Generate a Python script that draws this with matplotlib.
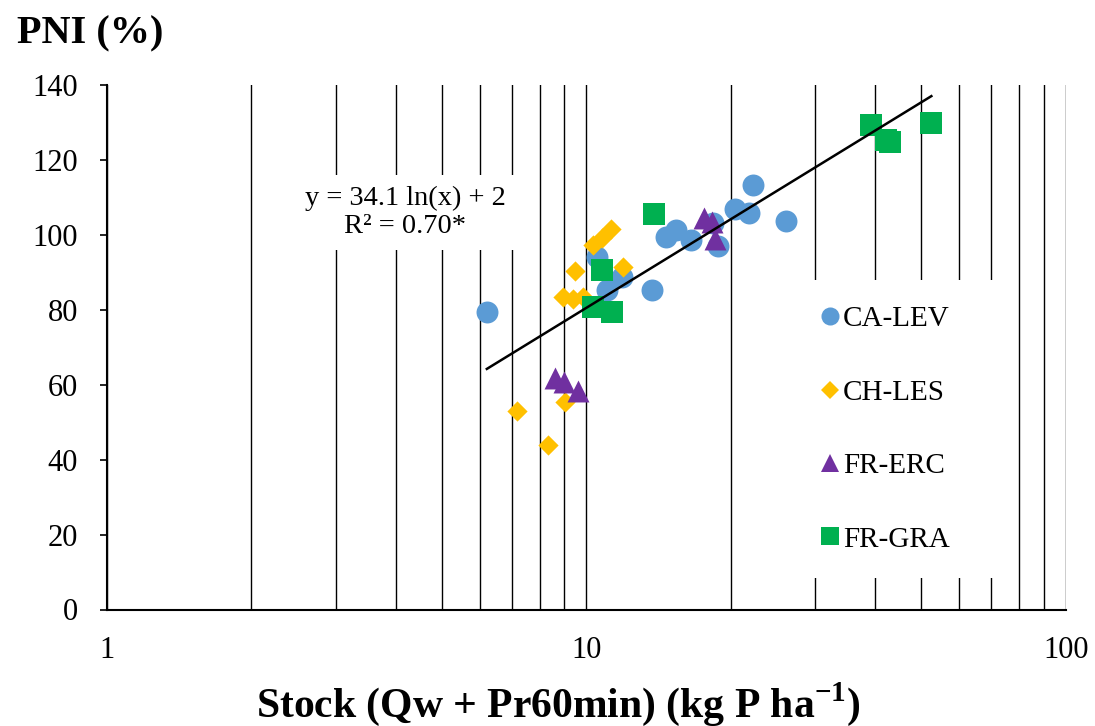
import numpy as np
import matplotlib
matplotlib.use("Agg")
import matplotlib.pyplot as plt
from matplotlib.ticker import FixedLocator, FixedFormatter, LogLocator, NullFormatter
from matplotlib.patches import Rectangle
from matplotlib.lines import Line2D

plt.rcParams['font.family'] = ['Liberation Serif', 'DejaVu Serif']
plt.rcParams['mathtext.fontset'] = 'custom'
plt.rcParams['mathtext.rm'] = 'Liberation Serif'
plt.rcParams['mathtext.bf'] = 'Liberation Serif:bold'

# P stock (kg P/ha) vs PNI (%) per site
ca_lev_x = [6.20, 10.5, 11.84, 11.02, 13.74, 14.65, 15.37, 16.5, 18.4, 18.8, 20.4, 21.85, 22.28, 26.06]
ca_lev_y = [79.4, 94.2, 88.8, 85.3, 85.3, 99.5, 101.3, 98.6, 103.1, 96.9, 106.8, 105.9, 113.3, 103.7]

ch_les_x = [11.25, 10.76, 10.33, 9.46, 11.93, 8.94, 9.38, 9.84, 7.17, 8.32, 9.02]
ch_les_y = [101.6, 99.1, 97.3, 90.3, 91.3, 83.5, 83.0, 83.5, 53.0, 43.9, 55.5]

fr_erc_x = [8.60, 8.97, 9.61, 17.58, 18.33, 18.53]
fr_erc_y = [61.7, 60.8, 58.2, 104.6, 103.3, 99.0]

fr_gra_x = [13.85, 10.79, 10.33, 11.32, 39.2, 42.1, 42.96, 52.45]
fr_gra_y = [105.6, 90.6, 80.8, 79.5, 129.2, 125.2, 124.7, 129.8]

series_names = ["CA-LEV", "CH-LES", "FR-ERC", "FR-GRA"]
series_colors = ['#5B9BD5', '#FFC000', '#7030A0', '#00B050']
series_markers = ['o', 'D', '^', 's']

# logarithmic fit y = a ln(x) + b
fit_a, fit_b = 34.1, 2
fit_r2 = "0.70*"

y_ticks = [0, 20, 40, 60, 80, 100, 120, 140]
x_ticks = [1, 10, 100]
x_tick_labels = ["1", "10", "100"]

W, H = 1095, 726
fig = plt.figure(figsize=(W / 100, H / 100), dpi=100)
ax = fig.add_axes([107 / W, 1 - 609.5 / H, (1065.7 - 107) / W, (609.5 - 85) / H])

ax.set_xscale('log')
ax.set_xlim(1, 100)
ax.set_ylim(0, 140)

ax.xaxis.set_major_locator(FixedLocator(x_ticks))
ax.xaxis.set_major_formatter(FixedFormatter(x_tick_labels))
ax.xaxis.set_minor_locator(LogLocator(base=10, subs=np.arange(2, 10)))
ax.xaxis.set_minor_formatter(NullFormatter())
ax.set_yticks(y_ticks)

ax.set_axisbelow(True)
ax.grid(True, which='both', axis='x', color='black', linewidth=1.0)
ax.grid(False, axis='y')

for s in ['top', 'right']:
    ax.spines[s].set_visible(False)
for s in ['left', 'bottom']:
    ax.spines[s].set_linewidth(1.5)
    ax.spines[s].set_color('black')

ax.tick_params(axis='x', which='both', length=0, pad=19, labelsize=22)
ax.tick_params(axis='y', which='major', length=5, width=1.2, direction='out', pad=16, labelsize=22)

ms = 15.8
sizes = [ms ** 2, 10.3 ** 2, ms ** 2, ms ** 2]
data = [(ca_lev_x, ca_lev_y), (ch_les_x, ch_les_y), (fr_erc_x, fr_erc_y), (fr_gra_x, fr_gra_y)]
for i, (xs, ys) in enumerate(data):
    ax.scatter(xs, ys, s=sizes[i], marker=series_markers[i], color=series_colors[i],
               linewidths=0, zorder=3 + i, label=series_names[i])

all_x = np.concatenate([ca_lev_x, ch_les_x, fr_erc_x, fr_gra_x])
xf = np.geomspace(all_x.min(), all_x.max(), 200)
ax.plot(xf, fit_a * np.log(xf) + fit_b, color='black', linewidth=1.8, zorder=7)

# fit equation
ax.text(405 / W, 1 - 212.5 / H, f"y = {fit_a} ln(x) + {fit_b}\nR² = {fit_r2}",
        transform=fig.transFigure, ha='center', va='center', multialignment='center',
        fontsize=20.5, linespacing=1.15, zorder=8,
        bbox=dict(facecolor='white', edgecolor='none', pad=8))

# white panel behind the legend
ax.add_patch(Rectangle((800 / W, 1 - 578 / H), 205 / W, 298 / H, transform=fig.transFigure,
                       facecolor='white', edgecolor='none', zorder=1, clip_on=False))
legend_ms = [13, 9.2, 13, 13]
handles = [Line2D([], [], linestyle='none', marker=series_markers[i], color=series_colors[i],
                  markersize=legend_ms[i], markeredgewidth=0, label=series_names[i])
           for i in range(4)]
leg = ax.legend(handles=handles, loc='upper left',
                bbox_to_anchor=(819.8 / W, 1 - 306 / H), bbox_transform=fig.transFigure,
                frameon=False, fontsize=21, handlelength=0.7, numpoints=1,
                handletextpad=0.1, labelspacing=1.61, borderpad=0, borderaxespad=0)

fig.text(17 / W, 1 - 43 / H, "PNI (%)", fontsize=29, fontweight='bold', ha='left', va='baseline')
fig.text(558 / W, 1 - 717 / H, r"Stock (Qw + Pr60min) (kg P ha$^{\mathbf{-1}}$)",
         fontsize=30, fontweight='bold', ha='center', va='baseline')

fig.savefig("out.png", dpi=100)
